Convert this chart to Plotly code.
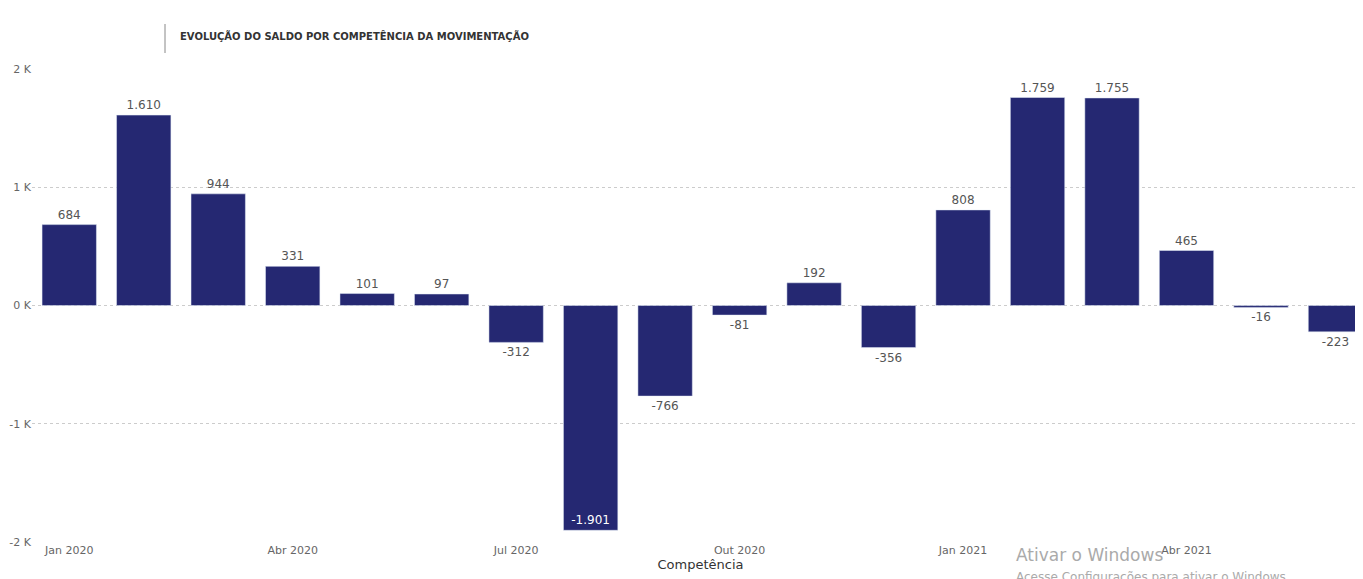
import plotly.graph_objects as go

months = ["2020-01","2020-02","2020-03","2020-04","2020-05","2020-06","2020-07","2020-08","2020-09",
          "2020-10","2020-11","2020-12","2021-01","2021-02","2021-03","2021-04","2021-05","2021-06"]
values = [684,1610,944,331,101,97,-312,-1901,-766,-81,192,-356,808,1759,1755,465,-16,-223]
tick_vals = ["2020-01","2020-04","2020-07","2020-10","2021-01","2021-04"]
tick_text = ["Jan 2020","Abr 2020","Jul 2020","Out 2020","Jan 2021","Abr 2021"]

def fmt(v):
    s = f"{abs(v):,}".replace(",", ".")
    return ("-" if v < 0 else "") + s

xs = list(range(len(months)))
texts = [fmt(v) for v in values]
positions = ["inside" if v < -1500 else "outside" for v in values]
tcolors = ["white" if v < -1500 else "#555555" for v in values]

L, T, B = 24, 61, 45
W = 1363 - L - 2
H = 579 - T - B
def px(x): return (x - L) / W
def py(y): return (579 - B - y) / H

fig = go.Figure(go.Bar(
    x=xs, y=values, text=texts, textposition=positions,
    insidetextanchor="end", textangle=0,
    textfont=dict(color=tcolors, size=12, family="DejaVu Sans"),
    outsidetextfont=dict(color="#555555", size=12),
    marker_color="#252872", width=0.73, cliponaxis=False,
))
fig.update_layout(
    width=1363, height=579, plot_bgcolor="white", paper_bgcolor="white",
    margin=dict(l=L, r=2, t=T, b=B, autoexpand=False), showlegend=False,
    font=dict(family="DejaVu Sans", color="#666666", size=11),
    xaxis=dict(range=[-0.5, 17.45], tickvals=[months.index(m) for m in tick_vals], ticktext=tick_text,
               showgrid=False, zeroline=False, ticks="", ticklabelstandoff=0, automargin=False,
               title=dict(text="Competência", font=dict(size=13, color="#333333"), standoff=2)),
    yaxis=dict(range=[-2000, 2000], tickvals=[-2000,-1000,0,1000,2000],
               ticktext=["-2 K","-1 K","0 K","1 K","2 K"], showgrid=True, automargin=False,
               gridcolor="#cccccc", griddash="dot", zeroline=False, ticks="", ticklabelstandoff=0),
)
fig.add_shape(type="line", xref="paper", yref="paper", x0=px(157), x1=px(157),
              y0=py(45), y1=py(16), line=dict(color="#888888", width=1))
fig.add_annotation(text="<b>EVOLUÇÃO DO SALDO POR COMPETÊNCIA DA MOVIMENTAÇÃO</b>", xref="paper", yref="paper",
                   x=px(170), y=py(28), xanchor="left", yanchor="middle",
                   showarrow=False, font=dict(size=10, color="#333333"))
fig.add_annotation(text="Ativar o Windows", xref="paper", yref="paper", x=px(1006), y=py(547),
                   xanchor="left", yanchor="middle", showarrow=False, font=dict(size=17, color="#aaaaaa"))
fig.add_annotation(text="Acesse Configurações para ativar o Windows.", xref="paper", yref="paper",
                   x=px(1006), y=py(569), xanchor="left", yanchor="middle", showarrow=False,
                   font=dict(size=12, color="#aaaaaa"))
fig.write_html("out.html")
